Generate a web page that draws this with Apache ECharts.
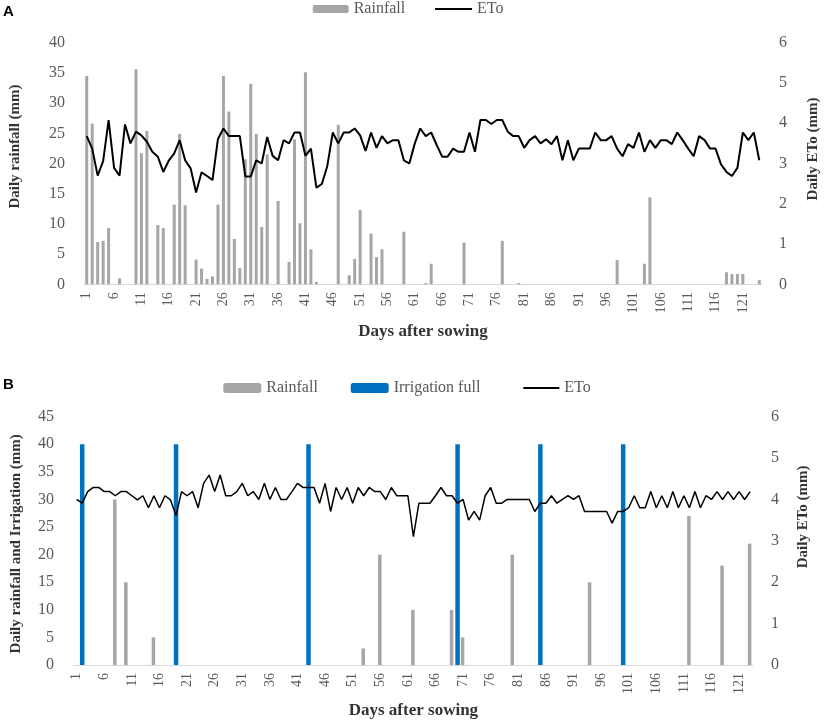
<!DOCTYPE html>
<html>
<head>
<meta charset="utf-8">
<script src="https://cdn.jsdelivr.net/npm/echarts/dist/echarts.min.js"></script>
<style>
  html, body { margin: 0; padding: 0; background: #fff; }
  #chart { width: 829px; height: 724px; }
</style>
</head>
<body>
<div id="chart"></div>
<script>
// Panel A: daily rainfall (mm) and ETo (mm), days 1..124
const daysA = Array.from({ length: 124 }, (_, i) => String(i + 1));
const rainA = [
  34.5, 26.6, 7.0, 7.2, 9.3, 0, 1.0, 0, 0, 35.6,
  21.7, 25.4, 0, 9.8, 9.3, 0, 13.2, 24.9, 13.1, 0,
  4.1, 2.6, 0.9, 1.3, 13.2, 34.5, 28.6, 7.5, 2.7, 20.7,
  33.2, 24.9, 9.5, 21.5, 0, 13.8, 0, 3.7, 24.0, 10.1,
  35.1, 5.8, 0.4, 0, 0, 0, 26.4, 0, 1.5, 4.2,
  12.3, 0, 8.4, 4.5, 5.8, 0, 0, 0, 8.7, 0,
  0, 0, 0.2, 3.4, 0, 0, 0, 0, 0, 6.9,
  0, 0, 0, 0, 0, 0, 7.2, 0, 0, 0.2,
  0, 0, 0, 0, 0, 0, 0, 0, 0, 0,
  0, 0, 0, 0, 0, 0, 0, 4.0, 0, 0,
  0, 0, 3.4, 14.4, 0, 0, 0, 0, 0, 0,
  0, 0, 0, 0, 0, 0, 0, 2.0, 1.7, 1.7,
  1.7, 0, 0, 0.7
];
const etoA = [
  3.68, 3.37, 2.70, 3.06, 4.08, 2.89, 2.70, 3.97, 3.50, 3.79,
  3.70, 3.54, 3.29, 3.17, 2.79, 3.07, 3.25, 3.58, 3.08, 2.88,
  2.28, 2.78, 2.69, 2.59, 3.61, 3.87, 3.68, 3.68, 3.68, 2.68,
  2.68, 3.08, 3.00, 3.66, 3.19, 3.08, 3.58, 3.50, 3.77, 3.77,
  3.19, 3.37, 2.40, 2.49, 2.94, 3.77, 3.50, 3.77, 3.77, 3.87,
  3.70, 3.31, 3.77, 3.39, 3.68, 3.50, 3.58, 3.58, 3.08, 3.00,
  3.50, 3.87, 3.68, 3.77, 3.46, 3.17, 3.17, 3.37, 3.29, 3.29,
  3.77, 3.29, 4.08, 4.08, 3.98, 4.08, 4.08, 3.79, 3.68, 3.68,
  3.39, 3.58, 3.68, 3.50, 3.60, 3.48, 3.68, 3.08, 3.58, 3.08,
  3.37, 3.37, 3.37, 3.77, 3.58, 3.58, 3.68, 3.37, 3.18, 3.48,
  3.39, 3.77, 3.29, 3.58, 3.39, 3.58, 3.58, 3.48, 3.77, 3.58,
  3.37, 3.18, 3.68, 3.58, 3.37, 3.37, 2.98, 2.79, 2.69, 2.89,
  3.77, 3.58, 3.77, 3.08
];

// Panel B: rainfall, full irrigation (mm) and ETo (mm), days 1..123
const daysB = Array.from({ length: 123 }, (_, i) => String(i + 1));
const rainB = [
  0, 0, 0, 0, 0, 0, 0, 30, 0, 15,
  0, 0, 0, 0, 5, 0, 0, 0, 0, 0,
  0, 0, 0, 0, 0, 0, 0, 0, 0, 0,
  0, 0, 0, 0, 0, 0, 0, 0, 0, 0,
  0, 0, 0, 0, 0, 0, 0, 0, 0, 0,
  0, 0, 3, 0, 0, 20, 0, 0, 0, 0,
  0, 10, 0, 0, 0, 0, 0, 0, 10, 0,
  5, 0, 0, 0, 0, 0, 0, 0, 0, 20,
  0, 0, 0, 0, 0, 0, 0, 0, 0, 0,
  0, 0, 0, 15, 0, 0, 0, 0, 0, 0,
  0, 0, 0, 0, 0, 0, 0, 0, 0, 0,
  0, 27, 0, 0, 0, 0, 0, 18, 0, 0,
  0, 0, 22
];
const irrigB = [
  0, 40, 0, 0, 0, 0, 0, 0, 0, 0,
  0, 0, 0, 0, 0, 0, 0, 0, 40, 0,
  0, 0, 0, 0, 0, 0, 0, 0, 0, 0,
  0, 0, 0, 0, 0, 0, 0, 0, 0, 0,
  0, 0, 40, 0, 0, 0, 0, 0, 0, 0,
  0, 0, 0, 0, 0, 0, 0, 0, 0, 0,
  0, 0, 0, 0, 0, 0, 0, 0, 0, 40,
  0, 0, 0, 0, 0, 0, 0, 0, 0, 0,
  0, 0, 0, 0, 40, 0, 0, 0, 0, 0,
  0, 0, 0, 0, 0, 0, 0, 0, 0, 40,
  0, 0, 0, 0, 0, 0, 0, 0, 0, 0,
  0, 0, 0, 0, 0, 0, 0, 0, 0, 0,
  0, 0, 0
];
const etoB = [
  4.00, 3.91, 4.19, 4.29, 4.29, 4.19, 4.19, 4.09, 4.19, 4.19,
  4.09, 3.99, 4.09, 3.80, 4.09, 3.80, 4.09, 3.99, 3.61, 4.19,
  4.09, 4.19, 3.80, 4.39, 4.59, 4.19, 4.59, 4.09, 4.09, 4.19,
  4.39, 4.09, 4.19, 4.00, 4.39, 4.00, 4.29, 4.00, 4.00, 4.19,
  4.39, 4.29, 4.29, 4.29, 3.91, 4.39, 3.71, 4.29, 4.00, 4.29,
  3.91, 4.29, 4.09, 4.29, 4.19, 4.19, 4.00, 4.29, 4.09, 4.09,
  4.09, 3.10, 3.91, 3.91, 3.91, 4.09, 4.29, 4.09, 4.09, 3.91,
  4.00, 3.50, 3.71, 3.50, 4.09, 4.29, 3.91, 3.91, 4.00, 4.00,
  4.00, 4.00, 4.00, 3.71, 3.91, 3.91, 4.09, 3.91, 4.00, 4.09,
  4.00, 4.09, 3.71, 3.71, 3.71, 3.71, 3.71, 3.43, 3.71, 3.71,
  3.80, 4.09, 3.80, 3.80, 4.19, 3.80, 4.09, 3.80, 4.19, 3.80,
  4.09, 3.80, 4.19, 3.80, 4.09, 4.00, 4.19, 4.00, 4.19, 4.00,
  4.19, 4.00, 4.19
];

const serif = "'Liberation Serif', 'Times New Roman', serif";
const tickColor = "#595959";
const titleColor = "#333333";
const rainColor = "#a6a6a6";
const irrigColor = "#0070c0";

const chart = echarts.init(document.getElementById("chart"), null, { renderer: "canvas" });

const categoryAxis = (gridIndex, data, nameGap) => ({
  type: "category",
  gridIndex,
  data,
  boundaryGap: true,
  axisLine: { lineStyle: { color: "#d9d9d9", width: 1 } },
  axisTick: { show: false },
  axisLabel: {
    rotate: 90,
    interval: 4,
    fontSize: 14,
    fontFamily: serif,
    color: tickColor,
    margin: 8
  },
  splitLine: { show: false },
  name: "Days after sowing",
  nameLocation: "middle",
  nameGap,
  nameTextStyle: { fontFamily: serif, fontSize: 17, fontWeight: "bold", color: titleColor }
});

const valueAxis = (gridIndex, position, max, interval, name, nameGap, padding, margin) => ({
  type: "value",
  gridIndex,
  position,
  min: 0,
  max,
  interval,
  axisLine: { show: false },
  axisTick: { show: false },
  splitLine: { show: false },
  axisLabel: { fontSize: 16, fontFamily: serif, color: tickColor, margin },
  name,
  nameLocation: "middle",
  nameGap,
  nameTextStyle: {
    fontFamily: serif,
    fontSize: 15,
    fontWeight: "bold",
    color: titleColor,
    padding
  }
});

const legendText = { fontFamily: serif, fontSize: 16, color: tickColor };
// plain line marker for the ETo legend entry (no dot)
const etoLegend = [{ name: "ETo", icon: "rect" }];

chart.setOption({
  backgroundColor: "#fff",
  animation: false,
  title: [
    { text: "A", left: 3, top: 4, padding: 0,
      textStyle: { fontFamily: "'Liberation Sans', Arial, sans-serif", fontSize: 15, fontWeight: "bold", color: "#000" } },
    { text: "B", left: 3, top: 377, padding: 0,
      textStyle: { fontFamily: "'Liberation Sans', Arial, sans-serif", fontSize: 15, fontWeight: "bold", color: "#000" } }
  ],
  legend: [
    { data: ["Rainfall"], left: 312.7, top: 1, padding: 0, itemWidth: 36, itemHeight: 8, textStyle: legendText },
    { data: etoLegend, left: 435, top: 1, padding: 0, itemWidth: 37, itemHeight: 2, textStyle: legendText },
    { data: ["Rainfall"], left: 223.3, top: 380, padding: 0, itemWidth: 38, itemHeight: 10, textStyle: legendText },
    { data: ["Irrigation full"], left: 350.7, top: 380, padding: 0, itemWidth: 38, itemHeight: 10, textStyle: legendText },
    { data: etoLegend, left: 523.3, top: 380, padding: 0, itemWidth: 36, itemHeight: 2, textStyle: legendText }
  ],
  grid: [
    { left: 82.2, top: 42.7, width: 683.2, height: 241.6 },
    { left: 73.9, top: 416.7, width: 679, height: 248.3 }
  ],
  xAxis: [
    categoryAxis(0, daysA, 39),
    categoryAxis(1, daysB, 37)
  ],
  yAxis: [
    valueAxis(0, "left", 40, 5, "Daily rainfall (mm)", 61, [0, 0, 0, 34], 19),
    valueAxis(0, "right", 6, 1, "Daily ETo (mm)", 44, [0, 0, 0, 29], 17),
    valueAxis(1, "left", 45, 5, "Daily rainfall and Irrigation (mm)", 50, [0, 6, 0, 0], 20),
    valueAxis(1, "right", 6, 1, "Daily ETo (mm)", 43, [0, 0, 0, 48], 18)
  ],
  series: [
    {
      name: "Rainfall",
      type: "bar",
      xAxisIndex: 0,
      yAxisIndex: 0,
      barWidth: 3,
      itemStyle: { color: rainColor },
      data: rainA
    },
    {
      name: "ETo",
      type: "line",
      xAxisIndex: 0,
      yAxisIndex: 1,
      symbol: "none",
      z: 5,
      lineStyle: { color: "#000", width: 2 },
      itemStyle: { color: "#000" },
      data: etoA
    },
    {
      name: "Rainfall",
      type: "bar",
      xAxisIndex: 1,
      yAxisIndex: 2,
      barWidth: 3.5,
      barGap: "-100%",
      itemStyle: { color: rainColor },
      data: rainB
    },
    {
      name: "Irrigation full",
      type: "bar",
      xAxisIndex: 1,
      yAxisIndex: 2,
      barWidth: 4.5,
      barGap: "-100%",
      itemStyle: { color: irrigColor },
      data: irrigB
    },
    {
      name: "ETo",
      type: "line",
      xAxisIndex: 1,
      yAxisIndex: 3,
      symbol: "none",
      z: 5,
      lineStyle: { color: "#000", width: 1.5 },
      itemStyle: { color: "#000" },
      data: etoB
    }
  ]
});

window.addEventListener("resize", () => chart.resize());
</script>
</body>
</html>
